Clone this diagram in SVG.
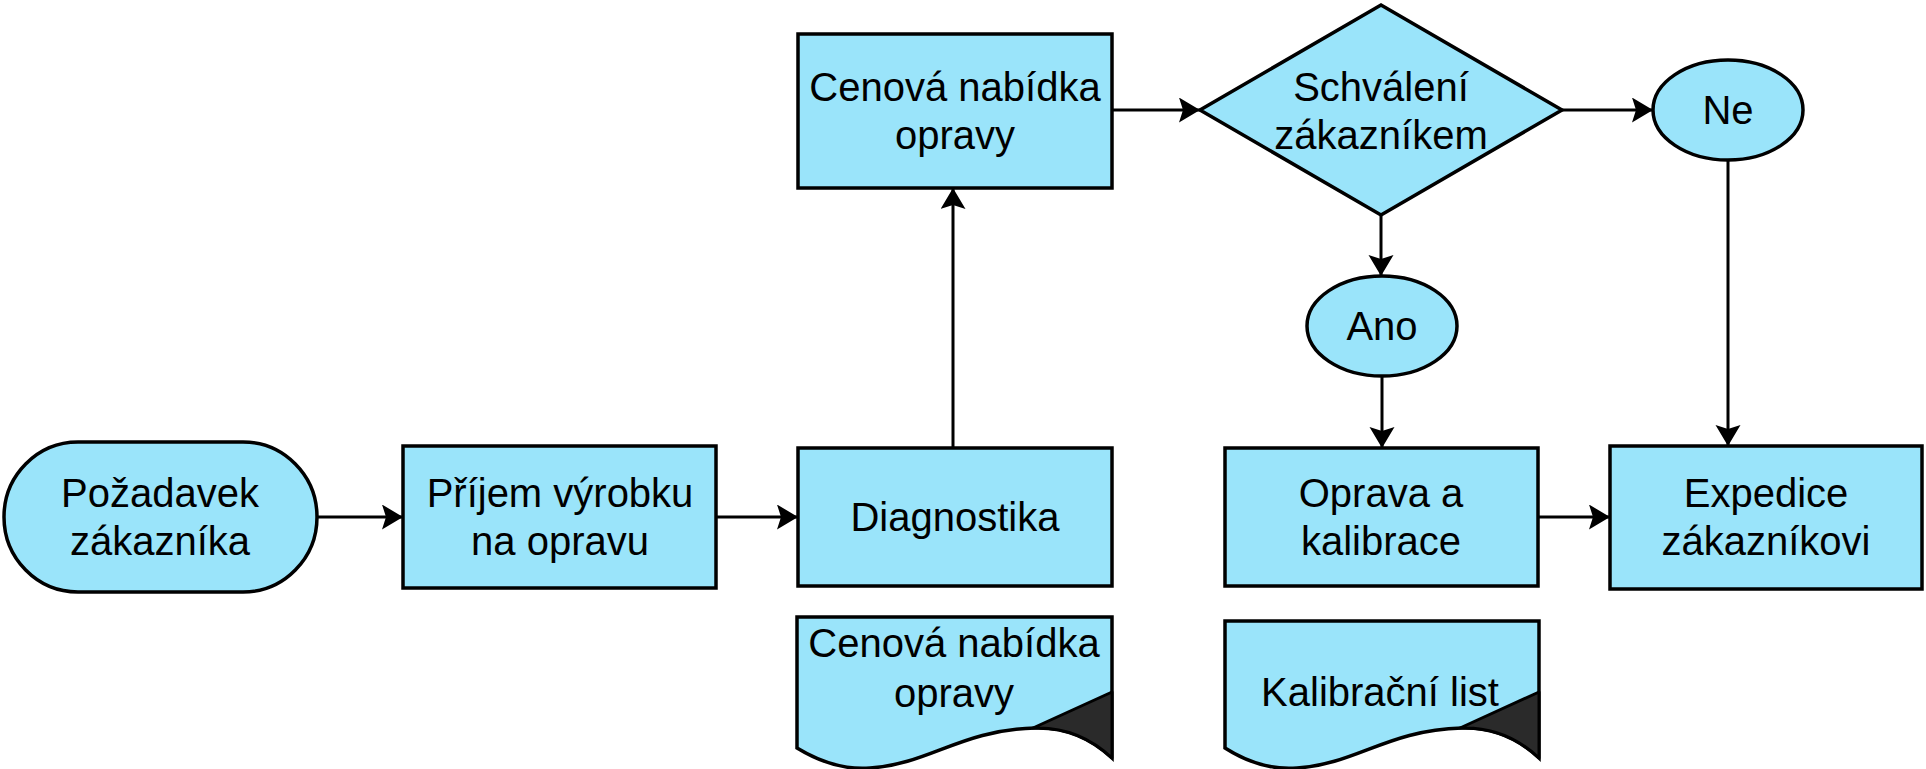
<svg xmlns="http://www.w3.org/2000/svg" width="1926" height="769" viewBox="0 0 1926 769">
<style>
.n{fill:#9ae4fa;stroke:#000;stroke-width:3.5}
.t{font-family:"Liberation Sans",Arial,sans-serif;font-size:40px;fill:#000;text-anchor:middle}
.c{stroke:#000;stroke-width:3;fill:none;marker-end:url(#ah)}
.fold{fill:#2a2a2a;stroke:#000;stroke-width:3;stroke-linejoin:round}
</style>
<defs>
<marker id="ah" markerUnits="userSpaceOnUse" markerWidth="24" markerHeight="26" refX="21" refY="12.5" orient="auto">
<path d="M0,0 L21,12.5 L0,25 L4,12.5 Z" fill="#000"/>
</marker>
</defs>
<rect width="1926" height="769" fill="#fff"/>
<g id="connectors">
<line class="c" x1="317" y1="517" x2="403" y2="517"/>
<line class="c" x1="716" y1="517" x2="798" y2="517"/>
<line class="c" x1="953" y1="448" x2="953" y2="188"/>
<line class="c" x1="1112" y1="110" x2="1200" y2="110"/>
<line class="c" x1="1562" y1="110" x2="1653" y2="110"/>
<line class="c" x1="1381" y1="216" x2="1381" y2="276"/>
<line class="c" x1="1382" y1="376" x2="1382" y2="448"/>
<line class="c" x1="1728" y1="160" x2="1728" y2="446"/>
<line class="c" x1="1538" y1="517" x2="1610" y2="517"/>
</g>
<g id="pozadavek">
<rect class="n" x="4" y="442" width="313" height="150" rx="74" ry="75"/>
<text class="t" x="160" y="507">Požadavek</text>
<text class="t" x="160" y="555">zákazníka</text>
</g>
<g id="prijem">
<rect class="n" x="403" y="446" width="313" height="142"/>
<text class="t" x="560" y="507">Příjem výrobku</text>
<text class="t" x="560" y="555">na opravu</text>
</g>
<g id="diagnostika">
<rect class="n" x="798" y="448" width="314" height="138"/>
<text class="t" x="955" y="531">Diagnostika</text>
</g>
<g id="cenova">
<rect class="n" x="798" y="34" width="314" height="154"/>
<text class="t" x="955" y="101">Cenová nabídka</text>
<text class="t" x="955" y="149">opravy</text>
</g>
<g id="schvaleni">
<polygon class="n" points="1381,5 1562,110 1381,215 1200,110"/>
<text class="t" x="1381" y="101">Schválení</text>
<text class="t" x="1381" y="149">zákazníkem</text>
</g>
<g id="ne">
<ellipse class="n" cx="1728" cy="110" rx="75" ry="50"/>
<text class="t" x="1728" y="124">Ne</text>
</g>
<g id="ano">
<ellipse class="n" cx="1382" cy="326" rx="75" ry="50"/>
<text class="t" x="1382" y="340">Ano</text>
</g>
<g id="oprava">
<rect class="n" x="1225" y="448" width="313" height="138"/>
<text class="t" x="1381" y="507">Oprava a</text>
<text class="t" x="1381" y="555">kalibrace</text>
</g>
<g id="expedice">
<rect class="n" x="1610" y="446" width="312" height="143"/>
<text class="t" x="1766" y="507">Expedice</text>
<text class="t" x="1766" y="555">zákazníkovi</text>
</g>
<g id="doc-cenova">
<path class="n" d="M797,617 H1112 V758 C1095,742 1070,727 1035,728 C960,730 930,764 870,768 C845,770 820,762 797,748 Z"/>
<path class="fold" d="M1033,728 L1112,692 V758 C1095,742 1070,727 1035,728 Z"/>
<text class="t" x="954" y="657">Cenová nabídka</text>
<text class="t" x="954" y="707">opravy</text>
</g>
<g id="doc-kalibracni">
<path class="n" d="M1225,621 H1539 V758 C1522,742 1497,727 1462,728 C1387,730 1357,764 1297,768 C1272,770 1247,762 1225,748 Z"/>
<path class="fold" d="M1460,728 L1539,692 V758 C1522,742 1497,727 1462,728 Z"/>
<text class="t" x="1380" y="706">Kalibrační list</text>
</g>
</svg>
